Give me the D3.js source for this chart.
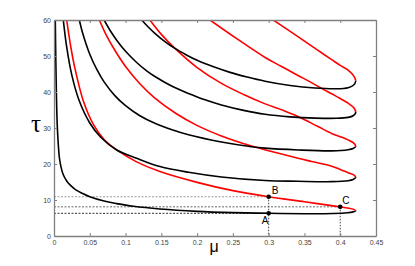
<!DOCTYPE html>
<html>
<head>
<meta charset="utf-8">
<script src="https://cdn.jsdelivr.net/npm/d3@7"></script>
<style>
  html, body { margin: 0; padding: 0; background: #fff; }
  svg { display: block; }
</style>
</head>
<body>
<svg id="chart" width="415" height="266"></svg>
<script>
// ---------- data ----------
const xTicks = [0, 0.05, 0.1, 0.15, 0.2, 0.25, 0.3, 0.35, 0.4, 0.45];
const xTickLabels = ["0", "0.05", "0.1", "0.15", "0.2", "0.25", "0.3", "0.35", "0.4", "0.45"];
const yTicks = [0, 10, 20, 30, 40, 50, 60];
const yTickLabels = ["0", "10", "20", "30", "40", "50", "60"];

// each loop: black branch (from top down to the turning point), red branch (from turning point back up)
const loop1Black = [[0.0018,60],[0.0026,48],[0.0035,38],[0.0046,30.5],[0.0060,25.5],[0.0075,21.8],[0.010,19.0],[0.013,17.0],[0.018,15.2],[0.0224,14.2],[0.030,12.9],[0.040,11.8],[0.050,10.9],[0.070,9.7],[0.0876,9.0],[0.111,8.25],[0.148,7.5],[0.20,6.85],[0.25,6.5],[0.30,6.3],[0.35,6.2],[0.39,6.25],[0.41,6.45],[0.418,6.7],[0.4216,7.0]];
const loop1Red = [[0.4216,7.0],[0.419,7.4],[0.41,7.8],[0.40,8.1],[0.35,9.5],[0.30,10.9],[0.25,12.6],[0.20,14.9],[0.148,17.9],[0.1155,20.6],[0.0876,23.9],[0.070,26.8],[0.055,31.0],[0.041,37.5],[0.0293,46.5],[0.0235,52.5],[0.0177,60]];

const loop2Black = [[0.013,60],[0.0175,52.8],[0.025,44.6],[0.035,37.7],[0.050,31.4],[0.065,27.5],[0.0876,23.9],[0.1155,21.6],[0.148,19.3],[0.188,17.7],[0.234,16.4],[0.295,15.4],[0.341,15.2],[0.388,15.1],[0.411,15.35],[0.418,15.7],[0.4216,16.3]];
const loop2Red = [[0.4216,16.3],[0.419,16.95],[0.411,17.6],[0.40,18.5],[0.388,19.4],[0.36,20.7],[0.341,21.6],[0.30,23.7],[0.276,25.0],[0.234,27.8],[0.199,30.8],[0.17,34.1],[0.141,38.3],[0.12,42.3],[0.10,47.1],[0.085,51.6],[0.0725,56.0],[0.0634,60]];

const loop3Black = [[0.0354,60],[0.040,56.4],[0.050,50.5],[0.060,46.2],[0.070,42.8],[0.085,39.0],[0.100,36.2],[0.120,33.4],[0.141,31.3],[0.165,29.5],[0.188,28.1],[0.234,26.1],[0.276,24.8],[0.295,24.4],[0.341,23.9],[0.388,23.65],[0.411,23.95],[0.418,24.3],[0.4216,24.9]];
const loop3Red = [[0.4216,24.9],[0.419,25.8],[0.411,26.7],[0.40,27.6],[0.388,28.5],[0.369,30.4],[0.341,33.2],[0.32,34.9],[0.295,36.7],[0.265,39.3],[0.234,42.4],[0.20,46.8],[0.169,52.1],[0.15,56.0],[0.134,60]];

const loop4Black = [[0.070,60],[0.080,56.6],[0.0876,54.4],[0.100,51.3],[0.1155,48.2],[0.130,45.8],[0.141,44.3],[0.165,41.6],[0.188,39.6],[0.21,37.9],[0.234,36.4],[0.265,34.9],[0.295,33.8],[0.33,33.1],[0.365,32.75],[0.395,32.7],[0.411,32.95],[0.418,33.4],[0.4216,34.3]];
const loop4Red = [[0.4216,34.3],[0.419,35.6],[0.411,36.9],[0.40,38.2],[0.388,39.5],[0.374,41.0],[0.358,42.8],[0.341,44.6],[0.318,47.1],[0.295,49.6],[0.257,54.6],[0.218,60]];

const loop5Black = [[0.1225,60],[0.131,58.2],[0.141,56.3],[0.155,54.0],[0.169,52.1],[0.185,50.3],[0.20,48.8],[0.222,47.05],[0.246,45.45],[0.27,44.15],[0.295,43.0],[0.33,41.8],[0.365,41.1],[0.395,40.9],[0.411,41.2],[0.418,41.8],[0.4216,43.0]];
const loop5Red = [[0.4216,43.0],[0.419,44.4],[0.411,46.1],[0.40,47.4],[0.388,49.0],[0.368,51.7],[0.348,54.4],[0.328,57.1],[0.3065,60]];

const markedPoints = [
  { label: "A", mu: 0.3, tau: 6.3 },
  { label: "B", mu: 0.3, tau: 10.9 },
  { label: "C", mu: 0.4, tau: 8.1 }
];

// ---------- layout ----------
const svg = d3.select("#chart");
const pLeft = 54, pRight = 376, pTop = 20, pBottom = 236;
const x = d3.scaleLinear().domain([0, 0.45]).range([pLeft, pRight]);
const y = d3.scaleLinear().domain([0, 60]).range([pBottom, pTop]);

svg.append("defs").append("clipPath").attr("id", "plotclip")
  .append("rect").attr("x", pLeft).attr("y", pTop).attr("width", pRight - pLeft).attr("height", pBottom - pTop);

const loops = [
  [loop1Black, loop1Red],
  [loop2Black, loop2Red],
  [loop3Black, loop3Red],
  [loop4Black, loop4Red],
  [loop5Black, loop5Red]
];

const line = d3.line()
  .x(d => x(d[0]))
  .y(d => y(d[1]))
  .curve(d3.curveCatmullRom.alpha(0.5));

// guide lines (dotted)
const guides = svg.append("g");
const guideStyle = { A: "#333", B: "#999", C: "#666" };
markedPoints.forEach(p => {
  guides.append("line")
    .attr("x1", x(0)).attr("x2", x(p.mu))
    .attr("y1", y(p.tau)).attr("y2", y(p.tau))
    .attr("stroke", guideStyle[p.label]).attr("stroke-width", 1)
    .attr("stroke-dasharray", "2,1.5");
});
[markedPoints[1], markedPoints[2]].forEach(p => {
  guides.append("line")
    .attr("x1", x(p.mu)).attr("x2", x(p.mu))
    .attr("y1", y(p.tau)).attr("y2", y(0))
    .attr("stroke", "#444").attr("stroke-width", 1)
    .attr("stroke-dasharray", "1.5,1.5");
});

// curves
const curves = svg.append("g").attr("clip-path", "url(#plotclip)");
loops.forEach(([blk, red]) => {
  const pts = blk.concat(red.slice(1));
  const d = line(pts);
  const probe = curves.append("path").attr("d", d).attr("fill", "none").attr("stroke", "none");
  const node = probe.node();
  const total = node.getTotalLength();
  let bestL = 0, bestX = -Infinity;
  for (let l = 0; l <= total; l += 0.25) {
    const pt = node.getPointAtLength(l);
    if (pt.x > bestX) { bestX = pt.x; bestL = l; }
  }
  probe.remove();
  curves.append("path").attr("d", d).attr("fill", "none")
    .attr("stroke", "#000").attr("stroke-width", 1.6)
    .attr("stroke-dasharray", `${bestL} ${total + 10}`);
  curves.append("path").attr("d", d).attr("fill", "none")
    .attr("stroke", "#ff0000").attr("stroke-width", 1.6)
    .attr("stroke-dasharray", `0 ${bestL} ${total + 10}`);
});

// axes
const axisColor = "#808080";
const fontFam = "'Liberation Sans', Arial, sans-serif";
const gx = svg.append("g").attr("transform", `translate(0,${pBottom})`)
  .call(d3.axisBottom(x).tickValues(xTicks).tickFormat((d, i) => xTickLabels[i]).tickSizeInner(-3).tickSizeOuter(0).tickPadding(4));
const gy = svg.append("g").attr("transform", `translate(${pLeft},0)`)
  .call(d3.axisLeft(y).tickValues(yTicks).tickFormat((d, i) => yTickLabels[i]).tickSizeInner(-3).tickSizeOuter(0).tickPadding(3));
const gt = svg.append("g").attr("transform", `translate(0,${pTop})`)
  .call(d3.axisTop(x).tickValues(xTicks).tickFormat("").tickSizeInner(-3).tickSizeOuter(0));
const gr = svg.append("g").attr("transform", `translate(${pRight},0)`)
  .call(d3.axisRight(y).tickValues(yTicks).tickFormat("").tickSizeInner(-3).tickSizeOuter(0));

[gx, gy, gt, gr].forEach(g => {
  g.select(".domain").attr("stroke", axisColor).attr("stroke-width", 1.3);
  g.selectAll(".tick line").attr("stroke", axisColor).attr("stroke-width", 1);
  g.selectAll(".tick text").attr("fill", "#444").attr("font-size", 7).attr("font-family", fontFam);
});

// points and labels
const ptsG = svg.append("g");
ptsG.selectAll("circle").data(markedPoints).join("circle")
  .attr("cx", d => x(d.mu)).attr("cy", d => y(d.tau)).attr("r", 2.3).attr("fill", "#000");
const labelOffset = { A: [-7, 11], B: [3, -3], C: [2, -3] };
ptsG.selectAll("text").data(markedPoints).join("text")
  .attr("x", d => x(d.mu) + labelOffset[d.label][0])
  .attr("y", d => y(d.tau) + labelOffset[d.label][1])
  .attr("text-anchor", "start")
  .attr("font-family", fontFam).attr("font-size", 10).attr("fill", "#000")
  .text(d => d.label);

// axis titles
svg.append("text").attr("x", 36).attr("y", 132).attr("text-anchor", "middle")
  .attr("font-family", "'Liberation Serif', 'Times New Roman', serif").attr("font-size", 25)
  .text("τ");
svg.append("text").attr("x", 214).attr("y", 252).attr("text-anchor", "middle")
  .attr("font-family", fontFam).attr("font-size", 16)
  .text("μ");
</script>
</body>
</html>
